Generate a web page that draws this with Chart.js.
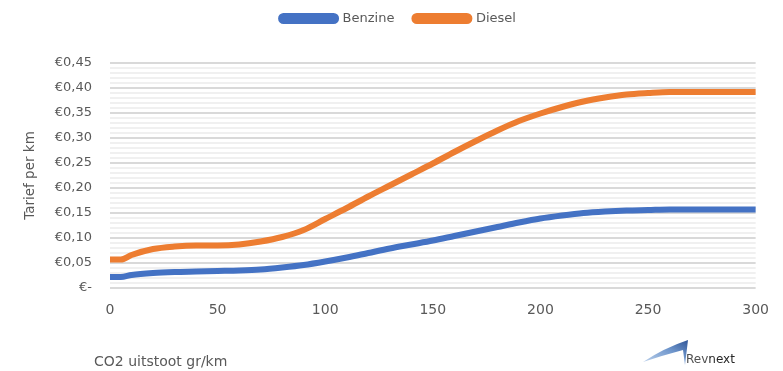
<!DOCTYPE html>
<html>
<head>
<meta charset="utf-8">
<script src="https://cdn.jsdelivr.net/npm/chart.js@4"></script>
<style>
  html, body { margin: 0; padding: 0; background: #fff; }
  #wrap { position: relative; width: 783px; height: 371px; }
  #logo { position: absolute; left: 642px; top: 338px; height: 30px; font-family: "DejaVu Sans", sans-serif; }
  #logo svg { position: absolute; left: 0; top: 0; }
  #logo span { position: absolute; left: 44px; top: 14px; font-size: 12px; color: #505050; white-space: nowrap; }
  #logo b { font-weight: normal; color: #262626; }
</style>
</head>
<body>
<div id="wrap">
  <canvas id="chart" width="783" height="371"></canvas>
  <div id="logo">
    <svg width="48" height="30" viewBox="0 0 48 30">
      <defs>
        <linearGradient id="g" x1="0" y1="1" x2="1" y2="0">
          <stop offset="0" stop-color="#c5d8ef"/>
          <stop offset="0.6" stop-color="#6f96cc"/>
          <stop offset="1" stop-color="#2f5597"/>
        </linearGradient>
      </defs>
      <path d="M1,24 Q22,10 46,2 L43,27 L41,12 Q22,17 1,24 Z" fill="url(#g)"/>
    </svg>
    <span>Rev<b>next</b></span>
  </div>
</div>
<script>
// CO2 uitstoot (gr/km)
const co2 = [0, 5, 10, 20, 30, 40, 50, 60, 70, 80, 90, 100, 110, 120, 130, 140, 150,
  160, 170, 180, 190, 200, 210, 220, 230, 240, 250, 260, 270, 280, 290, 300];
// tarief per km (euro)
const benzine = [0.022, 0.022, 0.026, 0.030, 0.032, 0.033, 0.034, 0.035, 0.037, 0.041, 0.046, 0.053,
  0.061, 0.070, 0.079, 0.087, 0.095, 0.104, 0.113, 0.122, 0.131, 0.139, 0.145, 0.150, 0.153, 0.155,
  0.156, 0.157, 0.157, 0.157, 0.157, 0.157];
const diesel = [0.057, 0.057, 0.066, 0.078, 0.083, 0.085, 0.085, 0.087, 0.093, 0.102, 0.116, 0.138,
  0.160, 0.183, 0.205, 0.227, 0.249, 0.272, 0.294, 0.315, 0.334, 0.349, 0.362, 0.373, 0.381, 0.387,
  0.390, 0.392, 0.392, 0.392, 0.392, 0.392];
const seriesNames = ["Benzine", "Diesel"];

const textColor = "#595959";
const fontFamily = "'DejaVu Sans', sans-serif";

const toPoints = (ys) => co2.map((x, i) => ({ x: x, y: ys[i] }));

const euro = (v) => {
  const r = Math.round(v * 100);
  if (r % 5 !== 0) return "";
  if (r === 0) return "€-";
  return "€" + (r / 100).toFixed(2).replace(".", ",");
};

// make room between legend and plot, and nudge the legend up/right
const legendGap = {
  id: "legendGap",
  beforeInit(chart) {
    const fit = chart.legend.fit;
    chart.legend.fit = function () {
      fit.bind(chart.legend)();
      this.height += 20;
    };
  },
  afterLayout(chart) {
    chart.legend.top -= 8;
    chart.legend.left += 37;
  },
};

// x axis title sits at the bottom left, not centred
const xTitle = {
  id: "xTitle",
  afterDraw(chart) {
    const ctx = chart.ctx;
    ctx.save();
    ctx.font = "14px " + fontFamily;
    ctx.fillStyle = textColor;
    ctx.textAlign = "left";
    ctx.textBaseline = "middle";
    ctx.fillText("CO2 uitstoot gr/km", chart.chartArea.left - 16, 362);
    ctx.restore();
  },
};

new Chart(document.getElementById("chart"), {
  type: "line",
  data: {
    datasets: [
      {
        label: seriesNames[0],
        data: toPoints(benzine),
        borderColor: "#4472C4",
        backgroundColor: "#4472C4",
        borderWidth: 6,
        borderCapStyle: "round",
        pointRadius: 0,
        cubicInterpolationMode: "monotone",
      },
      {
        label: seriesNames[1],
        data: toPoints(diesel),
        borderColor: "#ED7D31",
        backgroundColor: "#ED7D31",
        borderWidth: 6,
        borderCapStyle: "round",
        pointRadius: 0,
        cubicInterpolationMode: "monotone",
      },
    ],
  },
  options: {
    responsive: false,
    animation: false,
    layout: { padding: { left: 0, right: 23, top: 0, bottom: 0 } },
    plugins: {
      tooltip: { enabled: false },
      legend: {
        position: "top",
        labels: {
          color: textColor,
          font: { family: fontFamily, size: 13 },
          boxWidth: 55,
          boxHeight: 5,
          padding: 20,
          useBorderRadius: true,
          borderRadius: 2.5,
        },
      },
    },
    scales: {
      x: {
        type: "linear",
        min: 0,
        max: 300,
        ticks: {
          stepSize: 50,
          color: textColor,
          font: { family: fontFamily, size: 14 },
          padding: 14,
        },
        grid: { display: false, drawTicks: false },
        border: { display: false },
        afterFit(scale) { scale.height = 83; },
      },
      y: {
        min: 0,
        max: 0.45,
        ticks: {
          stepSize: 0.01,
          autoSkip: false,
          color: textColor,
          font: { family: fontFamily, size: 13 },
          padding: 18,
          callback: (v) => euro(v),
        },
        grid: {
          drawTicks: false,
          color: (c) => (Math.round(c.tick.value * 100) % 5 === 0 ? "#d9d9d9" : "#f0f0f0"),
          lineWidth: 2,
        },
        border: { display: false },
        title: {
          display: true,
          text: "Tarief per km",
          color: textColor,
          font: { family: fontFamily, size: 13.5 },
          padding: { top: 22, bottom: 0 },
        },
        afterFit(scale) { scale.width = 110; },
      },
    },
  },
  plugins: [legendGap, xTitle],
});
</script>
</body>
</html>
